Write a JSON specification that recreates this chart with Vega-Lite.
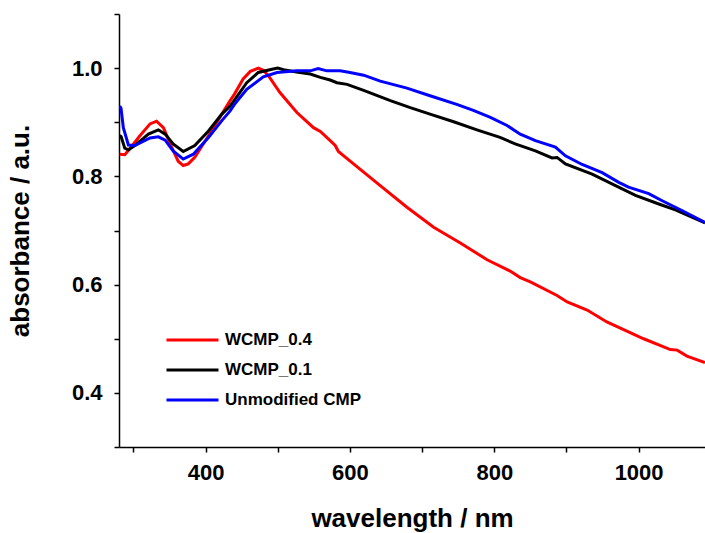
{
  "$schema": "https://vega.github.io/schema/vega-lite/v6.json",
  "width": 586,
  "height": 433,
  "autosize": {"type": "none"},
  "padding": {"left": 119, "top": 14, "right": 0, "bottom": 86},
  "background": "white",
  "config": {
    "view": {"stroke": null},
    "font": "Liberation Sans",
    "axis": {
      "grid": false,
      "domainColor": "black",
      "domainWidth": 1.5,
      "tickColor": "black",
      "tickWidth": 1.5,
      "tickSize": 5,
      "labelFont": "Liberation Sans",
      "labelFontWeight": "bold",
      "labelFontSize": 22,
      "labelColor": "black",
      "titleFont": "Liberation Sans",
      "titleFontWeight": "bold",
      "titleFontSize": 26,
      "titleColor": "black"
    }
  },
  "data": {
    "values": [
      {"s": "WCMP_0.4", "w": 281, "a": 0.841},
      {"s": "WCMP_0.4", "w": 288, "a": 0.840},
      {"s": "WCMP_0.4", "w": 295, "a": 0.851},
      {"s": "WCMP_0.4", "w": 309, "a": 0.875},
      {"s": "WCMP_0.4", "w": 323, "a": 0.897},
      {"s": "WCMP_0.4", "w": 332, "a": 0.902},
      {"s": "WCMP_0.4", "w": 341.5, "a": 0.890},
      {"s": "WCMP_0.4", "w": 353, "a": 0.854},
      {"s": "WCMP_0.4", "w": 362, "a": 0.828},
      {"s": "WCMP_0.4", "w": 369, "a": 0.820},
      {"s": "WCMP_0.4", "w": 376, "a": 0.823},
      {"s": "WCMP_0.4", "w": 385, "a": 0.835},
      {"s": "WCMP_0.4", "w": 404, "a": 0.875},
      {"s": "WCMP_0.4", "w": 422.5, "a": 0.915},
      {"s": "WCMP_0.4", "w": 434, "a": 0.940},
      {"s": "WCMP_0.4", "w": 440, "a": 0.952},
      {"s": "WCMP_0.4", "w": 452, "a": 0.980},
      {"s": "WCMP_0.4", "w": 462, "a": 0.994},
      {"s": "WCMP_0.4", "w": 473, "a": 1.0},
      {"s": "WCMP_0.4", "w": 480, "a": 0.996},
      {"s": "WCMP_0.4", "w": 487, "a": 0.986},
      {"s": "WCMP_0.4", "w": 503, "a": 0.955},
      {"s": "WCMP_0.4", "w": 526.5, "a": 0.918},
      {"s": "WCMP_0.4", "w": 549.5, "a": 0.890},
      {"s": "WCMP_0.4", "w": 559, "a": 0.883},
      {"s": "WCMP_0.4", "w": 572.6, "a": 0.866},
      {"s": "WCMP_0.4", "w": 579.6, "a": 0.857},
      {"s": "WCMP_0.4", "w": 584, "a": 0.846},
      {"s": "WCMP_0.4", "w": 605, "a": 0.823},
      {"s": "WCMP_0.4", "w": 642, "a": 0.783},
      {"s": "WCMP_0.4", "w": 679, "a": 0.743},
      {"s": "WCMP_0.4", "w": 716, "a": 0.706},
      {"s": "WCMP_0.4", "w": 753, "a": 0.677},
      {"s": "WCMP_0.4", "w": 790, "a": 0.646},
      {"s": "WCMP_0.4", "w": 822, "a": 0.625},
      {"s": "WCMP_0.4", "w": 836, "a": 0.613},
      {"s": "WCMP_0.4", "w": 850, "a": 0.605},
      {"s": "WCMP_0.4", "w": 887, "a": 0.580},
      {"s": "WCMP_0.4", "w": 901, "a": 0.568},
      {"s": "WCMP_0.4", "w": 928.7, "a": 0.553},
      {"s": "WCMP_0.4", "w": 956, "a": 0.531},
      {"s": "WCMP_0.4", "w": 1007, "a": 0.500},
      {"s": "WCMP_0.4", "w": 1044, "a": 0.480},
      {"s": "WCMP_0.4", "w": 1053.5, "a": 0.479},
      {"s": "WCMP_0.4", "w": 1067, "a": 0.468},
      {"s": "WCMP_0.4", "w": 1092, "a": 0.456},

      {"s": "WCMP_0.1", "w": 281, "a": 0.876},
      {"s": "WCMP_0.1", "w": 283, "a": 0.873},
      {"s": "WCMP_0.1", "w": 288, "a": 0.852},
      {"s": "WCMP_0.1", "w": 293, "a": 0.849},
      {"s": "WCMP_0.1", "w": 302, "a": 0.857},
      {"s": "WCMP_0.1", "w": 320.7, "a": 0.878},
      {"s": "WCMP_0.1", "w": 334.5, "a": 0.886},
      {"s": "WCMP_0.1", "w": 344, "a": 0.878},
      {"s": "WCMP_0.1", "w": 355, "a": 0.860},
      {"s": "WCMP_0.1", "w": 369, "a": 0.846},
      {"s": "WCMP_0.1", "w": 385, "a": 0.857},
      {"s": "WCMP_0.1", "w": 404, "a": 0.884},
      {"s": "WCMP_0.1", "w": 422.5, "a": 0.915},
      {"s": "WCMP_0.1", "w": 434, "a": 0.930},
      {"s": "WCMP_0.1", "w": 440, "a": 0.941},
      {"s": "WCMP_0.1", "w": 457, "a": 0.973},
      {"s": "WCMP_0.1", "w": 473, "a": 0.992},
      {"s": "WCMP_0.1", "w": 492, "a": 0.998},
      {"s": "WCMP_0.1", "w": 500, "a": 1.0},
      {"s": "WCMP_0.1", "w": 508, "a": 0.997},
      {"s": "WCMP_0.1", "w": 526, "a": 0.993},
      {"s": "WCMP_0.1", "w": 545, "a": 0.989},
      {"s": "WCMP_0.1", "w": 559, "a": 0.983},
      {"s": "WCMP_0.1", "w": 572.6, "a": 0.978},
      {"s": "WCMP_0.1", "w": 582, "a": 0.973},
      {"s": "WCMP_0.1", "w": 596, "a": 0.970},
      {"s": "WCMP_0.1", "w": 619, "a": 0.959},
      {"s": "WCMP_0.1", "w": 656, "a": 0.940},
      {"s": "WCMP_0.1", "w": 683.6, "a": 0.927},
      {"s": "WCMP_0.1", "w": 711, "a": 0.915},
      {"s": "WCMP_0.1", "w": 743.7, "a": 0.901},
      {"s": "WCMP_0.1", "w": 776, "a": 0.886},
      {"s": "WCMP_0.1", "w": 808, "a": 0.872},
      {"s": "WCMP_0.1", "w": 829, "a": 0.860},
      {"s": "WCMP_0.1", "w": 857, "a": 0.847},
      {"s": "WCMP_0.1", "w": 880, "a": 0.834},
      {"s": "WCMP_0.1", "w": 887, "a": 0.835},
      {"s": "WCMP_0.1", "w": 898.6, "a": 0.823},
      {"s": "WCMP_0.1", "w": 935.6, "a": 0.804},
      {"s": "WCMP_0.1", "w": 968, "a": 0.783},
      {"s": "WCMP_0.1", "w": 995.7, "a": 0.765},
      {"s": "WCMP_0.1", "w": 1028, "a": 0.749},
      {"s": "WCMP_0.1", "w": 1051, "a": 0.738},
      {"s": "WCMP_0.1", "w": 1092, "a": 0.714},

      {"s": "Unmodified CMP", "w": 281, "a": 0.930},
      {"s": "Unmodified CMP", "w": 282.8, "a": 0.926},
      {"s": "Unmodified CMP", "w": 286, "a": 0.890},
      {"s": "Unmodified CMP", "w": 293, "a": 0.858},
      {"s": "Unmodified CMP", "w": 302, "a": 0.857},
      {"s": "Unmodified CMP", "w": 323, "a": 0.871},
      {"s": "Unmodified CMP", "w": 334.5, "a": 0.873},
      {"s": "Unmodified CMP", "w": 344, "a": 0.867},
      {"s": "Unmodified CMP", "w": 355, "a": 0.847},
      {"s": "Unmodified CMP", "w": 369, "a": 0.832},
      {"s": "Unmodified CMP", "w": 383, "a": 0.841},
      {"s": "Unmodified CMP", "w": 404, "a": 0.872},
      {"s": "Unmodified CMP", "w": 422.5, "a": 0.903},
      {"s": "Unmodified CMP", "w": 434, "a": 0.921},
      {"s": "Unmodified CMP", "w": 440, "a": 0.933},
      {"s": "Unmodified CMP", "w": 457, "a": 0.961},
      {"s": "Unmodified CMP", "w": 480, "a": 0.984},
      {"s": "Unmodified CMP", "w": 499, "a": 0.992},
      {"s": "Unmodified CMP", "w": 526.5, "a": 0.995},
      {"s": "Unmodified CMP", "w": 545, "a": 0.995},
      {"s": "Unmodified CMP", "w": 556, "a": 0.999},
      {"s": "Unmodified CMP", "w": 568, "a": 0.995},
      {"s": "Unmodified CMP", "w": 586.5, "a": 0.995},
      {"s": "Unmodified CMP", "w": 600, "a": 0.992},
      {"s": "Unmodified CMP", "w": 619, "a": 0.987},
      {"s": "Unmodified CMP", "w": 642, "a": 0.976},
      {"s": "Unmodified CMP", "w": 679, "a": 0.963},
      {"s": "Unmodified CMP", "w": 711, "a": 0.949},
      {"s": "Unmodified CMP", "w": 748, "a": 0.933},
      {"s": "Unmodified CMP", "w": 771, "a": 0.922},
      {"s": "Unmodified CMP", "w": 794.6, "a": 0.909},
      {"s": "Unmodified CMP", "w": 817.7, "a": 0.894},
      {"s": "Unmodified CMP", "w": 836, "a": 0.878},
      {"s": "Unmodified CMP", "w": 857, "a": 0.866},
      {"s": "Unmodified CMP", "w": 884.7, "a": 0.854},
      {"s": "Unmodified CMP", "w": 898.6, "a": 0.838},
      {"s": "Unmodified CMP", "w": 921.7, "a": 0.822},
      {"s": "Unmodified CMP", "w": 949.5, "a": 0.807},
      {"s": "Unmodified CMP", "w": 972.5, "a": 0.789},
      {"s": "Unmodified CMP", "w": 986, "a": 0.780},
      {"s": "Unmodified CMP", "w": 1014, "a": 0.768},
      {"s": "Unmodified CMP", "w": 1032.7, "a": 0.755},
      {"s": "Unmodified CMP", "w": 1060, "a": 0.737},
      {"s": "Unmodified CMP", "w": 1092, "a": 0.715}
    ]
  },
  "mark": {"type": "line", "strokeWidth": 3, "clip": true},
  "encoding": {
    "x": {
      "field": "w",
      "type": "quantitative",
      "scale": {"domain": [280, 1092], "nice": false, "zero": false},
      "axis": {
        "title": "wavelength / nm",
        "values": [300, 400, 500, 600, 700, 800, 900, 1000],
        "format": "d",
        "labelExpr": "datum.value % 200 == 0 ? datum.label : ''",
        "labelPadding": 10,
        "titlePadding": 22
      }
    },
    "y": {
      "field": "a",
      "type": "quantitative",
      "scale": {"domain": [0.3, 1.1], "nice": false, "zero": false},
      "axis": {
        "title": "absorbance / a.u.",
        "values": [0.3, 0.4, 0.5, 0.6, 0.7, 0.8, 0.9, 1.0, 1.1],
        "format": ".1f",
        "labelExpr": "round(datum.value * 10) % 2 == 0 ? datum.label : ''",
        "labelPadding": 12,
        "titlePadding": 38
      }
    },
    "color": {
      "field": "s",
      "type": "nominal",
      "sort": null,
      "scale": {
        "domain": ["WCMP_0.4", "WCMP_0.1", "Unmodified CMP"],
        "range": ["#ff0000", "#000000", "#0000ff"]
      },
      "legend": {
        "title": null,
        "orient": "none",
        "legendX": 46,
        "legendY": 318,
        "padding": 0,
        "symbolType": "stroke",
        "symbolSize": 2704,
        "symbolStrokeWidth": 3,
        "clipHeight": 16,
        "rowPadding": 13,
        "labelOffset": 5,
        "labelFont": "Liberation Sans",
        "labelFontWeight": "bold",
        "labelFontSize": 17,
        "labelColor": "black"
      }
    }
  }
}
